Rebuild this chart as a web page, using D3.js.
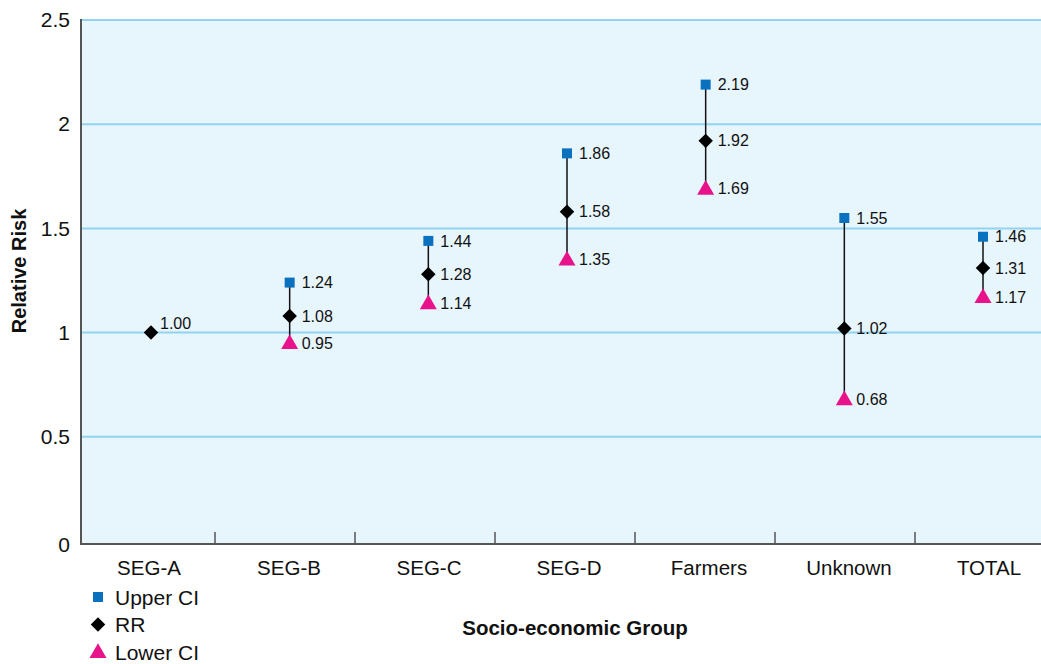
<!DOCTYPE html>
<html>
<head>
<meta charset="utf-8">
<script src="https://cdn.jsdelivr.net/npm/d3@7"></script>
<style>
  body { margin: 0; background: #fff; }
  svg { display: block; font-family: "Liberation Sans", Arial, Helvetica, sans-serif; }
</style>
</head>
<body>
<div id="chart"></div>
<script>
// data
const groups = ["SEG-A", "SEG-B", "SEG-C", "SEG-D", "Farmers", "Unknown", "TOTAL"];
const upperCI = [null, 1.24, 1.44, 1.86, 2.19, 1.55, 1.46];
const rr = [1.00, 1.08, 1.28, 1.58, 1.92, 1.02, 1.31];
const lowerCI = [null, 0.95, 1.14, 1.35, 1.69, 0.68, 1.17];
const yTicks = [0, 0.5, 1, 1.5, 2, 2.5];
const legendItems = ["Upper CI", "RR", "Lower CI"];

const wid = 1041, hei = 664;
// plot box
const padLeft = 81, padRight = 1041, padTop = 20, padBottom = 544;

const svg = d3.select("#chart").append("svg")
  .attr("width", wid).attr("height", hei);

// band scale for the axis ticks / labels, point scale for the marks
const xScale = d3.scaleBand().domain(groups).range([75, 1055]);
const xPoint = d3.scalePoint().domain(groups).range([151, 983]);
const yScale = d3.scaleLinear().domain([0, 2.5]).range([541, padTop]);
const cx = g => xPoint(g);

// background
svg.append("rect")
  .attr("x", padLeft).attr("y", padTop)
  .attr("width", padRight - padLeft).attr("height", padBottom - padTop)
  .attr("fill", "#e7f5fd");

// grid lines
svg.append("g")
  .selectAll("line")
  .data(yTicks.filter(d => d > 0))
  .join("line")
  .attr("x1", padLeft).attr("x2", padRight)
  .attr("y1", d => yScale(d)).attr("y2", d => yScale(d))
  .attr("stroke", "#91d4f0").attr("stroke-width", 2);

// y axis
const yAxis = d3.axisLeft(yScale).tickValues(yTicks).tickSize(0).tickPadding(11)
  .tickFormat(d => d);
const gy = svg.append("g").attr("transform", `translate(${padLeft},0)`).call(yAxis);
gy.select(".domain").remove();
gy.selectAll("text").attr("font-size", 21).attr("fill", "#111")
  .attr("font-family", "Liberation Sans, Arial, sans-serif");
gy.selectAll(".tick").filter(d => d === 0).select("text").attr("dy", "0.5em");
svg.append("line")
  .attr("x1", padLeft).attr("x2", padLeft).attr("y1", padTop - 1).attr("y2", padBottom + 1)
  .attr("stroke", "#555").attr("stroke-width", 2);

// x axis
svg.append("line")
  .attr("x1", padLeft).attr("x2", padRight).attr("y1", padBottom).attr("y2", padBottom)
  .attr("stroke", "#555").attr("stroke-width", 2);
svg.append("g").selectAll("line")
  .data(groups.slice(1))
  .join("line")
  .attr("x1", d => xScale(d)).attr("x2", d => xScale(d))
  .attr("y1", padBottom - 12).attr("y2", padBottom)
  .attr("stroke", "#555").attr("stroke-width", 1.5);
svg.append("g").selectAll("text")
  .data(groups)
  .join("text")
  .attr("x", d => xScale(d) + xScale.bandwidth() / 2 + 4).attr("y", 575)
  .attr("text-anchor", "middle")
  .attr("font-size", 20.5).attr("fill", "#111")
  .text(d => d);

// error bars
const ciRows = groups.map((g, i) => ({ g, up: upperCI[i], rr: rr[i], lo: lowerCI[i] }));
svg.append("g").selectAll("line")
  .data(ciRows.filter(d => d.up != null))
  .join("line")
  .attr("x1", d => cx(d.g)).attr("x2", d => cx(d.g))
  .attr("y1", d => yScale(d.up)).attr("y2", d => yScale(d.lo))
  .attr("stroke", "#111").attr("stroke-width", 1.5);

const squareSym = d3.symbol().type(d3.symbolSquare).size(100);
const diamondSym = d3.symbol().type(d3.symbolSquare).size(105);
const triSym = d3.symbol().type(d3.symbolTriangle).size(125);

// upper CI squares
svg.append("g").selectAll("path")
  .data(ciRows.filter(d => d.up != null))
  .join("path")
  .attr("d", squareSym)
  .attr("transform", d => `translate(${cx(d.g)},${yScale(d.up)})`)
  .attr("fill", "#0a71bf");

// lower CI triangles
svg.append("g").selectAll("path")
  .data(ciRows.filter(d => d.lo != null))
  .join("path")
  .attr("d", triSym)
  .attr("transform", d => `translate(${cx(d.g)},${yScale(d.lo) + 1})`)
  .attr("fill", "#e8138b");

// RR diamonds
svg.append("g").selectAll("path")
  .data(ciRows)
  .join("path")
  .attr("d", diamondSym)
  .attr("transform", d => `translate(${cx(d.g)},${yScale(d.rr)}) rotate(45)`)
  .attr("fill", "#000");

// value labels
const labels = [];
ciRows.forEach(d => {
  if (d.up != null) labels.push({ g: d.g, v: d.up, dy: 0 });
  labels.push({ g: d.g, v: d.rr, dy: d.up == null ? -9 : 0 });
  if (d.lo != null) labels.push({ g: d.g, v: d.lo, dy: 0 });
});
svg.append("g").selectAll("text")
  .data(labels)
  .join("text")
  .attr("x", d => cx(d.g) + (d.dy ? 9 : 12))
  .attr("y", d => yScale(d.v) + d.dy)
  .attr("dy", "0.35em")
  .attr("font-size", 16).attr("fill", "#111")
  .text(d => d.v.toFixed(2));

// axis titles
svg.append("text")
  .attr("transform", "translate(26,271) rotate(-90)")
  .attr("text-anchor", "middle")
  .attr("font-size", 20).attr("font-weight", "bold").attr("fill", "#111")
  .text("Relative Risk");
svg.append("text")
  .attr("x", 575).attr("y", 635)
  .attr("text-anchor", "middle")
  .attr("font-size", 20.5).attr("font-weight", "bold").attr("fill", "#111")
  .text("Socio-economic Group");

// legend
const legSyms = [squareSym, diamondSym, triSym];
const legCols = ["#0a71bf", "#000", "#e8138b"];
const leg = svg.append("g").selectAll("g")
  .data(legendItems)
  .join("g")
  .attr("transform", (d, i) => `translate(98,${597 + i * 27.5})`);
leg.append("path")
  .attr("d", (d, i) => legSyms[i]())
  .attr("transform", (d, i) => i === 1 ? "rotate(45)" : i === 2 ? "translate(0,1)" : null)
  .attr("fill", (d, i) => legCols[i]);
leg.append("text")
  .attr("x", 17).attr("dy", "0.36em")
  .attr("font-size", 21).attr("fill", "#111")
  .text(d => d);
</script>
</body>
</html>
